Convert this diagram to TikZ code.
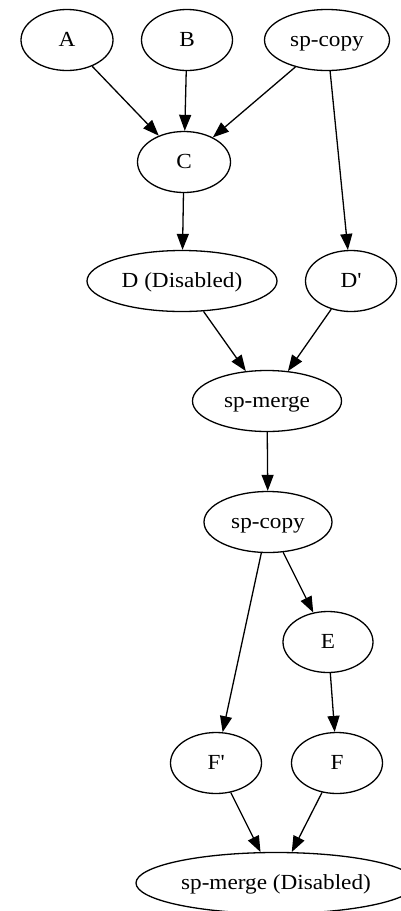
\documentclass[tikz,border=0pt]{standalone}
\usepackage{fontspec}
\setmainfont{Liberation Serif}[FakeStretch=1.08]
\usetikzlibrary{shapes.geometric,arrows.meta}
\newcommand{\jobfont}{\fontsize{21.5}{26}\selectfont}
\newcommand{\pr}{\textquotesingle}

\begin{document}
\begin{tikzpicture}[x=1pt,y=-1pt]
                        \tikzstyle{job}=[draw, ellipse, line width=1.3pt, minimum height=61pt, inner sep=0pt, text height=14pt, text depth=2pt, font=\jobfont]
                        \tikzstyle{edge}=[-{Triangle[length=16pt,width=12pt]}, line width=1.3pt]
                        \clip (0,0) rectangle (401,911);
                        \node[job, minimum width=92pt] (a) at (67,40) {A};
                        \node[job, minimum width=91pt] (b) at (187,40) {B};
                        \node[job, minimum width=125pt] (copytop) at (327,40) {sp-copy};
                        \node[job, minimum width=93pt] (c) at (184,162) {C};
                        \node[job, minimum width=190pt] (d) at (182,281) {D (Disabled)};
                        \node[job, minimum width=91pt] (dp) at (351,281) {D\pr};
                        \node[job, minimum width=149pt] (merge) at (267,401) {sp-merge};
                        \node[job, minimum width=128pt] (copy) at (268,522) {sp-copy};
                        \node[job, minimum width=90pt] (e) at (328,642) {E};
                        \node[job, minimum width=91pt] (fp) at (216,763) {F\pr};
                        \node[job, minimum width=91pt] (f) at (337,763) {F};
                        \node[job, minimum width=280pt] (mergeoff) at (276,883) {sp-merge (Disabled)};
                        \draw[edge] (a) -- (c);
                        \draw[edge] (b) -- (c);
                        \draw[edge] (copytop) -- (c);
                        \draw[edge] (copytop) -- (dp);
                        \draw[edge] (c) -- (d);
                        \draw[edge] (d) -- (merge);
                        \draw[edge] (dp) -- (merge);
                        \draw[edge] (merge) -- (copy);
                        \draw[edge] (copy) -- (fp);
                        \draw[edge] (copy) -- (e);
                        \draw[edge] (e) -- (f);
                        \draw[edge] (fp) -- (mergeoff);
                        \draw[edge] (f) -- (mergeoff);
                    \end{tikzpicture}
\end{document}
